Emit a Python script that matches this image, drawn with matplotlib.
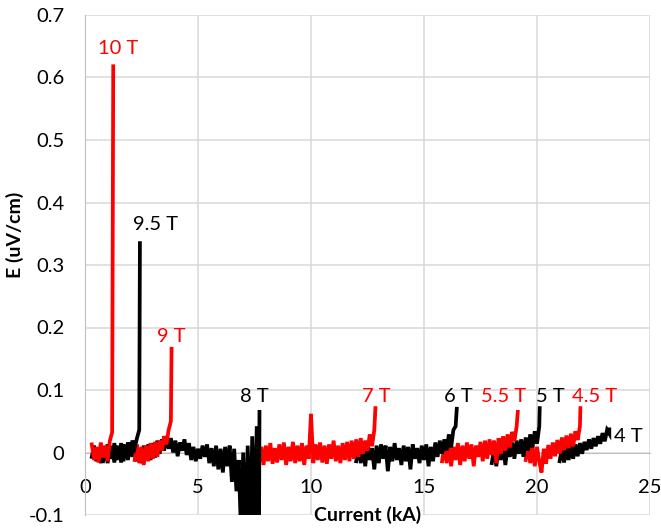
import numpy as np
import matplotlib
matplotlib.use('Agg')
import matplotlib.pyplot as plt
from matplotlib.ticker import FuncFormatter

plt.rcParams['font.family'] = ['Lato', 'DejaVu Sans']

# E (uV/cm) traces, values in 1e-3 uV/cm, sampled every 0.1 kA from start
# each trace ends with the quench spike (current, peak)
traces = {
    '4 T':   dict(start=21.0, color='black', quench=(23.2, 37),
                  vals=[-14, 6, -16, 9, -12, 11, -10, 13, -6, 15,
                        -2, 17, 4, 21, 6, 23, 10, 26, 14, 31,
                        18, 36, 30]),
    '4.5 T': dict(start=19.5, color='red', quench=(21.92, 71),
                  vals=[-12, 14, -17, 11, -22, 9, -14, -32, 6, -18,
                        12, -10, 16, -6, 20, -2, 24, 4, 27, 7,
                        30, 10, 34, 20, 42]),
    '5 T':   dict(start=18.0, color='black', quench=(20.12, 71),
                  vals=[-17, 6, -22, 9, -12, 13, -20, 11, -7, 16,
                        -10, 19, -2, 21, -7, 24, 3, 29, 8, 34,
                        14, 42]),
    '5.5 T': dict(start=15.8, color='red', quench=(19.15, 65),
                  vals=[-14, 11, -17, 13, -22, 9, -12, 15, -20, 11,
                        -14, 16, -10, 13, -22, 11, -7, 17, -14, 19,
                        -10, 21, -4, 19, -17, 23, -2, 26, 3, 29,
                        8, 33, 18, 42]),
    '6 T':   dict(start=12.0, color='black', quench=(16.45, 70),
                  vals=[-14, 11, -17, 9, -22, 13, -12, 7, -27, 11,
                        -17, 13, -10, 11, -30, 9, -14, 15, -12, 7,
                        -20, 11, -14, 9, -27, 13, -10, 7, -17, 11,
                        -12, 13, -22, 9, -14, 16, -7, 19, -2, 21,
                        3, 29, 8, 36, 42]),
    '7 T':   dict(start=7.5, color='red', quench=(12.85, 71),
                  vals=[-12, 13, -17, 9, -20, 11, -14, 15, -18, 7,
                        -16, 13, -12, 16, -20, 9, -14, 17, -17, 11,
                        -14, 15, -20, 11, -10, 62, -17, 13, -12, 16,
                        -16, 11, -18, 13, -10, 19, -14, 11, -17, 15,
                        -12, 17, -14, 19, -10, 21, -7, 23, -2, 19,
                        3, 29, 10, 36]),
    '8 T':   dict(start=0.3, color='black', quench=(7.72, 65),
                  vals=[-7, 11, -14, 7, -17, 9, -12, 13, -10, 6,
                        -16, 11, -8, 15, -14, 9, -12, 16, -7, 11,
                        -14, 7, -17, 11, -10, 13, -12, 15, -8, 19,
                        -2, 21, 3, 26, 6, 23, 0, 19, -6, 16,
                        3, 21, -4, 15, -12, 9, -14, 6, -10, 11,
                        -7, 13, -17, 7, -22, 11, -27, 6, -32, 9,
                        -22, 11, -47, 6, -62, -12, -125, 0, -135, 11,
                        -145, 26, -135, 42, -125]),
    '9 T':   dict(start=2.2, color='red', quench=(3.83, 166),
                  vals=[-12, 13, -17, 9, -20, 11, -14, 15, -10, 17,
                        -7, 19, 3, 26, 13, 36, 50]),
    '9.5 T': dict(start=0.8, color='black', quench=(2.43, 335),
                  vals=[-14, 9, -17, 11, -10, 15, -12, 7, -16, 13,
                        -2, 16, 3, 19, 8, 23, 36]),
    '10 T':  dict(start=0.3, color='red', quench=(1.25, 618),
                  vals=[13, -12, 9, -16, 16, -8, 11, -14, 19, 32]),
}

# label positions (x, y) in data units
labels = {
    '10 T': (1.45, 0.647), '9.5 T': (3.1, 0.364), '9 T': (3.83, 0.185),
    '8 T': (7.5, 0.089), '7 T': (12.9, 0.089), '6 T': (16.5, 0.089),
    '5.5 T': (18.5, 0.089), '5 T': (20.6, 0.089), '4.5 T': (22.55, 0.089),
    '4 T': (24.05, 0.025),
}

fig = plt.figure(figsize=(6.61, 5.28), dpi=100)
ax = fig.add_axes([85/661, 13/528, 565/661, 500/528])

for name, t in traces.items():
    v = np.array(t['vals']) / 1000.0
    x = t['start'] + 0.1 * np.arange(len(v))
    x = np.append(x, t['quench'][0])
    v = np.append(v, t['quench'][1] / 1000.0)
    ax.plot(x, v, color=t['color'], lw=2.7, solid_joinstyle='miter', zorder=3)

for name, (lx, ly) in labels.items():
    ax.text(lx, ly, name, color=traces[name]['color'], fontsize=14.5,
            ha='center', va='center', zorder=4)

ax.set_xlim(0, 25)
ax.set_ylim(-0.1, 0.7)
ax.set_xticks(np.arange(0, 26, 5))
ax.set_yticks(np.arange(-0.1, 0.71, 0.1))
ax.yaxis.set_major_formatter(FuncFormatter(lambda v, p: '0' if abs(v) < 1e-9 else '%.1f' % v))
ax.grid(True, color='#d9d9d9', lw=1.1, zorder=0)
ax.set_axisbelow(True)
ax.spines['top'].set_visible(False)
ax.spines['right'].set_visible(False)
ax.spines['bottom'].set_position(('data', 0))
ax.spines['bottom'].set_color('#bfbfbf')
ax.spines['left'].set_color('#bfbfbf')
ax.spines['bottom'].set_zorder(1)
ax.tick_params(axis='both', length=0, labelsize=14.5, colors='black')
ax.tick_params(axis='x', pad=19)
ax.tick_params(axis='y', pad=15)

ax.set_ylabel('E (uV/cm)', fontsize=14, fontweight='bold')
ax.yaxis.set_label_coords(-0.108, 0.56)
ax.text(0.5, 0.0, 'Current (kA)', transform=ax.transAxes, fontsize=14,
        fontweight='bold', ha='center', va='center',
        bbox=dict(facecolor='white', edgecolor='none', pad=1), zorder=5)

fig.savefig('out.png', dpi=100)
